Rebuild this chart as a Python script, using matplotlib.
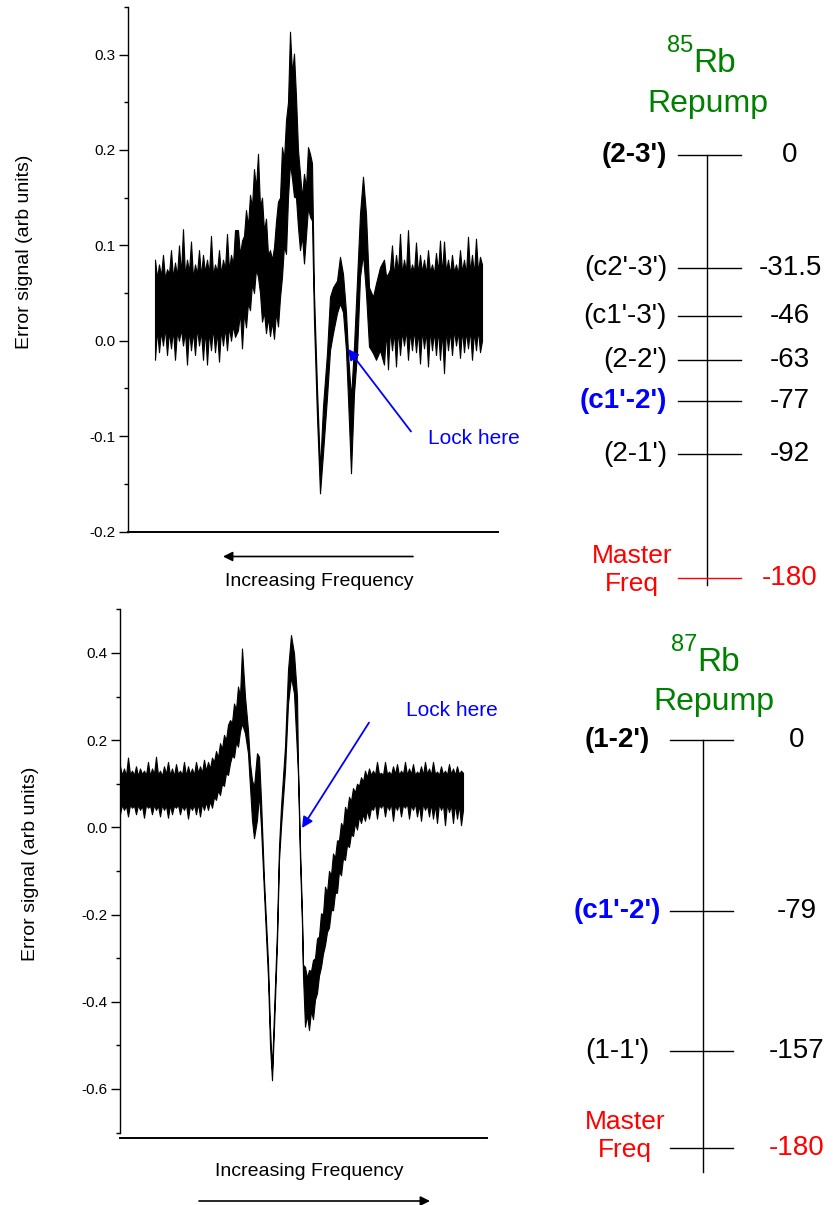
import matplotlib
matplotlib.use("Agg")
import matplotlib.pyplot as plt
from matplotlib.ticker import MultipleLocator, FuncFormatter

plt.rcParams['font.family'] = ['Liberation Sans', 'DejaVu Sans']
plt.rcParams['axes.unicode_minus'] = False

# --- 85Rb error signal: scan position, upper / lower edge of the noisy trace
# flat noisy start (every 2 units)
t1_x = list(range(155, 236, 2))
t1_hi = [0.085, 0.066, 0.080, 0.068, 0.090, 0.065, 0.075, 0.070, 0.095, 0.066,
         0.082, 0.068, 0.100, 0.070, 0.117, 0.068, 0.085, 0.072, 0.104, 0.066,
         0.080, 0.070, 0.095, 0.068, 0.090, 0.072, 0.085, 0.070, 0.110, 0.068,
         0.080, 0.072, 0.095, 0.070, 0.085, 0.075, 0.112, 0.074, 0.090, 0.080, 0.116]
t1_lo = [-0.020, 0.012, -0.012, 0.010, -0.005, 0.014, -0.015, 0.010, -0.008, 0.012,
         -0.020, 0.010, 0.000, 0.012, -0.005, 0.010, -0.025, 0.012, -0.010, 0.010,
         -0.015, 0.014, -0.005, 0.010, -0.020, 0.012, -0.025, 0.010, -0.010, 0.014,
         -0.012, 0.010, -0.022, 0.012, -0.005, 0.014, -0.010, 0.015, 0.000, 0.016, 0.004]
# noisy double peak
t2_x = list(range(238, 313, 2))
t2_hi = [0.116, 0.090, 0.105, 0.110, 0.137, 0.120, 0.153, 0.140, 0.180, 0.160,
         0.196, 0.140, 0.150, 0.115, 0.128, 0.090, 0.095, 0.085, 0.098, 0.125,
         0.146, 0.150, 0.203, 0.190, 0.231, 0.250, 0.324, 0.280, 0.301, 0.256,
         0.200, 0.175, 0.150, 0.175, 0.161, 0.203, 0.196, 0.186]
t2_lo = [0.011, 0.030, -0.008, 0.030, 0.014, 0.040, 0.032, 0.060, 0.050, 0.075,
         0.067, 0.050, 0.020, 0.030, 0.008, 0.025, 0.005, 0.020, 0.002, 0.030,
         0.015, 0.045, 0.067, 0.100, 0.091, 0.150, 0.186, 0.170, 0.151, 0.150,
         0.119, 0.095, 0.110, 0.081, 0.110, 0.140, 0.130, 0.126]
# dispersive dips around the lock point
t3_x = [314, 317, 320, 323, 327, 330, 333, 337, 340, 343, 346, 348, 351, 354, 357, 360, 363, 366, 369, 373,
        376, 380]
t3_hi = [0.050, -0.050, -0.135, -0.069, -0.013, 0.046, 0.056, 0.063, 0.088, 0.070, 0.030, -0.013, -0.060,
         -0.006, 0.063, 0.133, 0.172, 0.133, 0.056, 0.046, 0.060, 0.077]
t3_lo = [0.020, -0.080, -0.160, -0.118, -0.059, -0.010, 0.008, 0.029, 0.039, 0.030, -0.010, -0.060, -0.139,
         -0.055, -0.013, 0.067, 0.091, 0.050, -0.006, -0.013, -0.020, -0.010]
# flat noisy end
t4_x = list(range(384, 483, 2))
t4_hi = [0.085, 0.068, 0.070, 0.075, 0.100, 0.068, 0.090, 0.072, 0.112, 0.070,
         0.085, 0.072, 0.116, 0.070, 0.080, 0.072, 0.103, 0.070, 0.090, 0.072,
         0.085, 0.070, 0.095, 0.072, 0.080, 0.070, 0.092, 0.072, 0.105, 0.070,
         0.104, 0.072, 0.085, 0.070, 0.090, 0.072, 0.080, 0.070, 0.095, 0.072,
         0.085, 0.070, 0.109, 0.072, 0.090, 0.070, 0.107, 0.072, 0.088, 0.080]
t4_lo = [-0.025, 0.010, -0.030, 0.012, -0.010, 0.010, -0.027, 0.012, -0.015, 0.010,
         -0.005, 0.012, -0.020, 0.010, -0.010, 0.012, -0.012, 0.010, -0.024, 0.012,
         -0.008, 0.010, -0.027, 0.012, -0.010, 0.010, -0.015, 0.012, -0.020, 0.010,
         -0.034, 0.012, -0.010, 0.010, -0.015, 0.012, -0.005, 0.010, -0.018, 0.012,
         -0.012, 0.010, -0.008, 0.012, -0.020, 0.010, -0.010, 0.012, -0.012, 0.000]

# --- 87Rb error signal
b1_x = list(range(120, 207, 2))
b1_hi = [0.140, 0.120, 0.135, 0.118, 0.160, 0.122, 0.130, 0.120, 0.140, 0.118,
         0.135, 0.122, 0.130, 0.120, 0.150, 0.118, 0.135, 0.122, 0.162, 0.120,
         0.130, 0.118, 0.140, 0.122, 0.150, 0.120, 0.135, 0.118, 0.145, 0.122,
         0.130, 0.120, 0.150, 0.118, 0.140, 0.122, 0.135, 0.120, 0.150, 0.125,
         0.140, 0.125, 0.155, 0.130]
b1_lo = [0.030, 0.052, 0.040, 0.050, 0.025, 0.052, 0.045, 0.050, 0.030, 0.052,
         0.040, 0.050, 0.022, 0.052, 0.045, 0.050, 0.030, 0.052, 0.040, 0.050,
         0.025, 0.052, 0.040, 0.050, 0.022, 0.052, 0.030, 0.050, 0.045, 0.052,
         0.030, 0.050, 0.040, 0.052, 0.020, 0.050, 0.040, 0.052, 0.030, 0.055,
         0.025, 0.055, 0.040, 0.058]
# rising wing up to the first peak
b2_x = list(range(208, 243, 2))
b2_hi = [0.150, 0.135, 0.160, 0.150, 0.175, 0.160, 0.193, 0.180, 0.212,
         0.200, 0.235, 0.246, 0.240, 0.284, 0.270, 0.323, 0.300, 0.410]
b2_lo = [0.040, 0.060, 0.045, 0.070, 0.063, 0.085, 0.074, 0.100, 0.095,
         0.125, 0.120, 0.147, 0.165, 0.160, 0.195, 0.185, 0.220, 0.238]
# the two deep dips
b3_x = [245, 248, 250, 252, 254, 257, 259, 261, 264, 268, 270, 272, 274, 277, 279, 281, 285, 288, 291, 294,
        297, 298, 300, 302, 303]
b3_hi = [0.300, 0.223, 0.147, 0.108, 0.093, 0.170, 0.162, 0.063, -0.120, -0.310, -0.460, -0.555, -0.425,
         -0.235, -0.045, 0.047, 0.185, 0.361, 0.441, 0.399, 0.300, 0.140, -0.045, -0.200, -0.315]
b3_lo = [0.216, 0.170, 0.093, 0.017, -0.025, 0.017, 0.078, 0.001, -0.150, -0.345, -0.500, -0.580, -0.460,
         -0.265, -0.075, 0.001, 0.131, 0.284, 0.345, 0.307, 0.170, 0.120, -0.075, -0.225, -0.340]
# noisy recovery
b4_x = list(range(305, 372, 2))
b4_hi = [-0.320, -0.345, -0.327, -0.330, -0.304, -0.300, -0.255, -0.250, -0.197, -0.200,
         -0.136, -0.150, -0.100, -0.110, -0.060, -0.070, -0.030, -0.030, 0.010, 0.000,
         0.047, 0.035, 0.070, 0.060, 0.090, 0.080, 0.100, 0.095, 0.115, 0.105,
         0.130, 0.115, 0.135, 0.120]
b4_lo = [-0.457, -0.430, -0.465, -0.420, -0.440, -0.395, -0.380, -0.340, -0.320, -0.290,
         -0.270, -0.240, -0.230, -0.190, -0.190, -0.150, -0.150, -0.100, -0.110, -0.070,
         -0.075, -0.040, -0.045, -0.015, -0.020, 0.010, -0.005, 0.025, 0.010, 0.030,
         0.015, 0.040, 0.020, 0.045]
# flat noisy end
b5_x = list(range(373, 464, 2))
b5_hi = [0.130, 0.120, 0.150, 0.122, 0.125, 0.120, 0.150, 0.122, 0.128, 0.120,
         0.140, 0.122, 0.145, 0.120, 0.130, 0.122, 0.150, 0.120, 0.135, 0.122,
         0.145, 0.120, 0.128, 0.122, 0.140, 0.120, 0.150, 0.122, 0.135, 0.120,
         0.150, 0.122, 0.128, 0.120, 0.140, 0.122, 0.130, 0.120, 0.145, 0.122,
         0.135, 0.120, 0.140, 0.122, 0.130, 0.125]
b5_lo = [0.040, 0.055, 0.020, 0.052, 0.045, 0.055, 0.025, 0.052, 0.040, 0.055,
         0.015, 0.052, 0.040, 0.055, 0.025, 0.052, 0.045, 0.055, 0.020, 0.052,
         0.040, 0.055, 0.025, 0.052, 0.015, 0.055, 0.040, 0.052, 0.025, 0.055,
         0.020, 0.052, 0.010, 0.055, 0.040, 0.052, 0.005, 0.055, 0.035, 0.052,
         0.010, 0.055, 0.020, 0.052, 0.005, 0.040]

# --- level diagrams (schematic rows as drawn, labels, MHz offsets)
rb85_rows = [155, 268, 316, 360, 401, 454, 578]
rb85_labels = ["(2-3')", "(c2'-3')", "(c1'-3')", "(2-2')", "(c1'-2')", "(2-1')", "Master\nFreq"]
rb85_values = ["0", "-31.5", "-46", "-63", "-77", "-92", "-180"]
rb85_bold = [True, False, False, False, True, False, False]
rb85_colors = ["black", "black", "black", "black", "blue", "black", "red"]

rb87_rows = [740, 911, 1051, 1148]
rb87_labels = ["(1-2')", "(c1'-2')", "(1-1')", "Master\nFreq"]
rb87_values = ["0", "-79", "-157", "-180"]
rb87_bold = [True, True, False, False]
rb87_colors = ["black", "blue", "black", "red"]

top_x = t1_x + t2_x + t3_x + t4_x
top_hi = t1_hi + t2_hi + t3_hi + t4_hi
top_lo = t1_lo + t2_lo + t3_lo + t4_lo
bot_x = b1_x + b2_x + b3_x + b4_x + b5_x
bot_hi = b1_hi + b2_hi + b3_hi + b4_hi + b5_hi
bot_lo = b1_lo + b2_lo + b3_lo + b4_lo + b5_lo

W, H = 835, 1205
fig = plt.figure(figsize=(W / 100, H / 100), dpi=100)


def fmt(v, pos):
    if abs(v) < 1e-9:
        return "0.0"
    return f"{v:.1f}"


def signal_axes(rect, xlim, ylim, major, label_xy):
    ax = fig.add_axes(rect)
    ax.set_xlim(xlim)
    ax.set_ylim(ylim)
    ax.spines['top'].set_visible(False)
    ax.spines['right'].set_visible(False)
    ax.spines['left'].set_linewidth(1.0)
    ax.spines['bottom'].set_linewidth(1.4)
    ax.set_xticks([])
    ax.yaxis.set_major_locator(MultipleLocator(major))
    ax.yaxis.set_minor_locator(MultipleLocator(major / 2))
    ax.yaxis.set_major_formatter(FuncFormatter(fmt))
    ax.tick_params(axis='y', which='major', length=6.7, width=1, labelsize=11, pad=2)
    ax.tick_params(axis='y', which='minor', length=3.2, width=1)
    ax.set_ylabel('Error signal (arb units)', fontsize=14)
    ax.yaxis.set_label_coords(*label_xy)
    return ax


def draw_trace(ax, x, hi, lo):
    ax.fill_between(x, lo, hi, facecolor='black', edgecolor='black', linewidth=0.8)


ax1 = signal_axes([128 / W, 1 - 531.5 / H, 370 / W, 524.6 / H], (128, 498), (-0.2, 0.35), 0.1,
                  (-0.257, 0.534))
draw_trace(ax1, top_x, top_hi, top_lo)

ax2 = signal_axes([120 / W, 1 - 1132.6 / H, 367 / W, 523.3 / H], (120, 487), (-0.7, 0.5), 0.2,
                  (-0.221, 0.514))
ax2.spines['bottom'].set_position(('outward', 4.2))
draw_trace(ax2, bot_x, bot_hi, bot_lo)

# overlay in pixel coordinates for the annotations and level schemes
ov = fig.add_axes([0, 0, 1, 1])
ov.set_xlim(0, W)
ov.set_ylim(H, 0)
ov.axis('off')

arrow_k = dict(arrowstyle='-|>', color='black', lw=1.2, mutation_scale=14, shrinkA=0, shrinkB=0)
arrow_b = dict(arrowstyle='-|>', color='blue', lw=1.3, mutation_scale=16, shrinkA=0, shrinkB=0)

ov.annotate('', xy=(223, 556.5), xytext=(413, 556.5), arrowprops=arrow_k)
ov.text(319, 581, 'Increasing Frequency', ha='center', va='center', fontsize=14)
ov.annotate('', xy=(430, 1201), xytext=(199, 1201), arrowprops=arrow_k)
ov.text(309, 1171, 'Increasing Frequency', ha='center', va='center', fontsize=14)

ov.annotate('', xy=(348, 349), xytext=(411, 431.5), arrowprops=arrow_b)
ov.text(428, 438.5, 'Lock here', ha='left', va='center', fontsize=15, color='blue')
ov.annotate('', xy=(302, 828), xytext=(369, 722.6), arrowprops=arrow_b)
ov.text(406, 710, 'Lock here', ha='left', va='center', fontsize=15, color='blue')


def level_scheme(rows, labels, values, bold, colors, axis_x, axis_end, x0, x1,
                 label_x, label_ha, master_x, master_dy, value_x, master_line,
                 iso, iso_x, iso_y, rep_x, rep_y):
    ov.plot([axis_x, axis_x], [rows[0], axis_end], color='black', lw=1.0)
    for i, (r, lab, val) in enumerate(zip(rows, labels, values)):
        master = (i == len(rows) - 1)
        ov.plot([x0, x1], [r, r], color=master_line if master else 'black', lw=1.0)
        if master:
            ov.text(master_x, r + master_dy, lab, ha='center', va='center', fontsize=19,
                    color=colors[i], linespacing=1.25)
        else:
            ov.text(label_x, r, lab, ha=label_ha, va='center', fontsize=20, color=colors[i],
                    fontweight='bold' if bold[i] else 'normal')
        ov.text(value_x, r, val, ha='center', va='center', fontsize=20,
                color='red' if master else 'black')
    # isotope title: small mass number raised before "Rb"
    ov.text(iso_x, iso_y - 20, iso, ha='right', va='baseline', fontsize=17, color='green')
    ov.text(iso_x, iso_y, 'Rb', ha='left', va='baseline', fontsize=24, color='green')
    ov.text(rep_x, rep_y, 'Repump', ha='center', va='center', fontsize=23, color='green')


level_scheme(rb85_rows, rb85_labels, rb85_values, rb85_bold, rb85_colors, 707, 585, 678, 741,
             667, 'right', 632, -8, 790, 'red', '85', 693, 72, 708, 104)
level_scheme(rb87_rows, rb87_labels, rb87_values, rb87_bold, rb87_colors, 703, 1172, 670, 733,
             617, 'center', 625, -12, 797, 'black', '87', 697, 671, 714, 702)

fig.savefig('out.png', dpi=100)
